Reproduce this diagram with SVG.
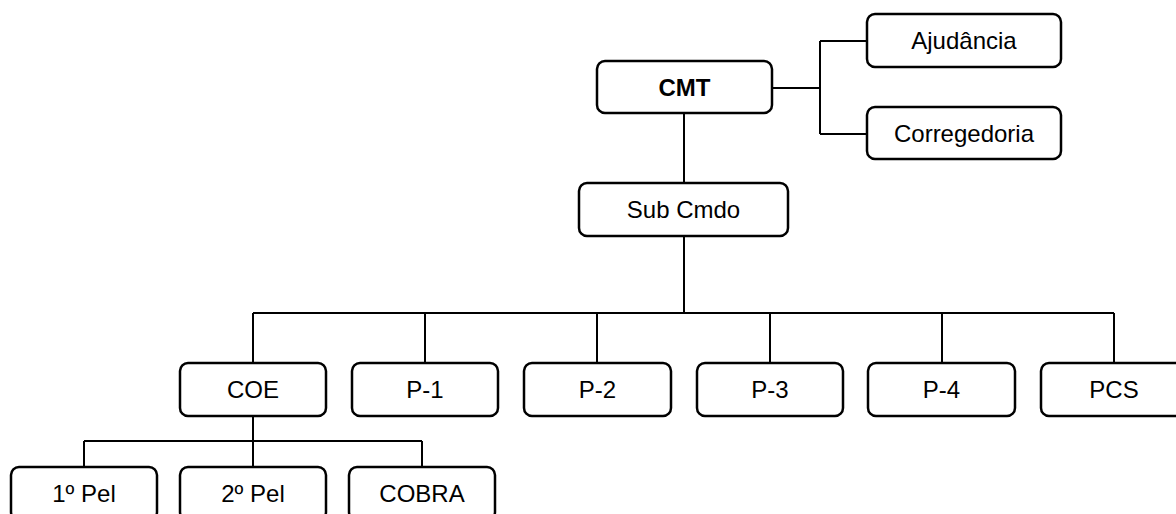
<svg xmlns="http://www.w3.org/2000/svg" width="1176" height="514" viewBox="0 0 1176 514">
<style>
  .box { fill: #fff; stroke: #000; stroke-width: 2.5; }
  .lbl { font-family: "Liberation Sans", Arial, sans-serif; font-size: 24px; text-anchor: middle; fill: #000; }
  .bold { font-weight: bold; }
  .conn { fill: none; stroke: #000; stroke-width: 2; }
</style>
<rect width="1176" height="514" fill="#fff"/>
<g id="connectors" class="conn">
  <path d="M772 88 H820 M820 41 V134 M820 41 H867 M820 134 H867"/>
  <path d="M684 113 V183"/>
  <path d="M684 236 V313 M253 313 H1114"/>
  <path d="M253 313 V363 M425 313 V363 M597 313 V363 M770 313 V363 M942 313 V363 M1114 313 V363"/>
  <path d="M253 416 V441 M84 441 H422 M84 441 V467 M253 441 V467 M422 441 V467"/>
</g>
<g id="cmt"><rect class="box" x="597" y="61" width="175" height="52" rx="8"/><text class="lbl bold" x="684.5" y="95.5">CMT</text></g>
<g id="ajudancia"><rect class="box" x="867" y="14" width="194" height="53" rx="8"/><text class="lbl" x="964" y="49">Ajudância</text></g>
<g id="corregedoria"><rect class="box" x="867" y="107" width="194" height="52" rx="8"/><text class="lbl" x="964" y="141.5">Corregedoria</text></g>
<g id="subcmdo"><rect class="box" x="579" y="183" width="209" height="53" rx="8"/><text class="lbl" x="683.5" y="218">Sub Cmdo</text></g>
<g id="coe"><rect class="box" x="180" y="363" width="146" height="53" rx="8"/><text class="lbl" x="253" y="398">COE</text></g>
<g id="p1"><rect class="box" x="352" y="363" width="146" height="53" rx="8"/><text class="lbl" x="425" y="398">P-1</text></g>
<g id="p2"><rect class="box" x="524" y="363" width="147" height="53" rx="8"/><text class="lbl" x="597.5" y="398">P-2</text></g>
<g id="p3"><rect class="box" x="697" y="363" width="146" height="53" rx="8"/><text class="lbl" x="770" y="398">P-3</text></g>
<g id="p4"><rect class="box" x="868" y="363" width="147" height="53" rx="8"/><text class="lbl" x="941.5" y="398">P-4</text></g>
<g id="pcs"><rect class="box" x="1041" y="363" width="146" height="53" rx="8"/><text class="lbl" x="1114" y="398">PCS</text></g>
<g id="pel1"><rect class="box" x="11" y="467" width="146" height="53" rx="8"/><text class="lbl" x="84" y="502">1º Pel</text></g>
<g id="pel2"><rect class="box" x="180" y="467" width="146" height="53" rx="8"/><text class="lbl" x="253" y="502">2º Pel</text></g>
<g id="cobra"><rect class="box" x="349" y="467" width="146" height="53" rx="8"/><text class="lbl" x="422" y="502">COBRA</text></g>
</svg>
